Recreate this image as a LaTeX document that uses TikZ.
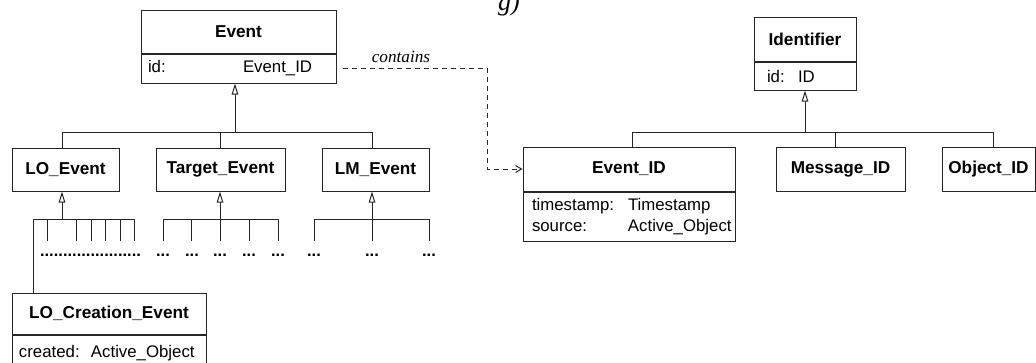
\documentclass[tikz,border=0pt]{standalone}
\usepackage{fontspec}
\setmainfont{Liberation Sans}
\newfontfamily\timesfont{Liberation Serif}
\usetikzlibrary{arrows.meta}
\tikzset{
  cls/.style={draw=black!85, line width=1pt, minimum height=44pt, inner sep=0pt,
    font=\fontsize{17.2}{20}\selectfont\bfseries},
  attr/.style={draw=black!85, line width=1pt, inner ysep=0pt, align=left,
    font=\fontsize{16.8}{21}\selectfont},
  ln/.style={line width=1pt, draw=black!85},
  gen/.style={ln, -{Triangle[open, length=11pt, width=6.5pt, fill=white]}},
  dep/.style={ln, dash pattern=on 5pt off 4pt, -{Straight Barb[length=6pt, width=7pt]}},
  dotrow/.style={font=\fontsize{16.5}{16}\selectfont\bfseries, inner sep=0pt, anchor=base},
  lbl/.style={font=\timesfont\itshape\fontsize{17.2}{20}\selectfont, inner sep=0pt, anchor=base},
}
\begin{document}
\begin{tikzpicture}[x=1pt,y=-1pt]
\useasboundingbox (0,0) rectangle (1036,362);
\clip (0,0) rectangle (1036,362);

% fragment of caption above (cut off at the top edge, as in the reference)
\node[lbl, font=\timesfont\itshape\fontsize{26}{28}\selectfont] (frag) at (509,10) {g)};

% ---- Event hierarchy ----
\node[cls, minimum width=195pt, minimum height=43pt] (event) at (238.5,31.5) {Event};
\node[attr, inner xsep=7pt, text width=181pt, minimum height=29pt, anchor=north] (eventattr) at (event.south)
  {\makebox[95pt][l]{id:}Event\_ID};

\node[cls, minimum width=107pt, minimum height=43pt] (loev) at (65.5,169.5) {LO\_Event};
\node[cls, minimum width=129pt, minimum height=43pt] (targetev) at (220.5,169.5) {Target\_Event};
\node[cls, minimum width=107pt, minimum height=43pt] (lmev) at (375.5,169.5) {LM\_Event};

\coordinate (eb) at (235,132);
\coordinate (b1) at (62,132);
\coordinate (b2) at (220,132);
\coordinate (b3) at (372,132);
\draw[ln] (b1) -- (b3);
\draw[gen] (eb) -- (eb |- eventattr.south);
\draw[ln] (b1) -- (b1 |- loev.north);
\draw[ln] (b2) -- (b2 |- targetev.north);
\draw[ln] (b3) -- (b3 |- lmev.north);

% LO_Event subclasses
\node[cls, minimum width=194pt, minimum height=41pt] (locr) at (109,313.5) {LO\_Creation\_Event};
\node[attr, inner xsep=7pt, text width=180pt, minimum height=36pt, anchor=north] (locrattr) at (locr.south)
  {\makebox[72pt][l]{created:}Active\_Object};

\coordinate (loL) at (33,219);
\coordinate (loA) at (62,219);
\coordinate (loR) at (134,219);
\draw[ln] (loL) -- (loR);
\draw[gen] (loA) -- (loA |- loev.south);
\draw[ln] (loL) -- (loL |- locr.north);
\foreach \x in {47,76,91,105,120,134} \draw[ln] (\x,219) -- (\x,241);
\node[dotrow] (lodots) at (90.5,256) {......................};

% Target_Event subclasses
\coordinate (tL) at (163,219);
\coordinate (tA) at (220,219);
\coordinate (tR) at (278,219);
\draw[ln] (tL) -- (tR);
\draw[gen] (tA) -- (tA |- targetev.south);
\foreach \x in {163,191,249,278} \draw[ln] (\x,219) -- (\x,241);
\draw[ln] (220,219) -- (220,241);

% LM_Event subclasses
\coordinate (mL) at (314,219);
\coordinate (mA) at (372,219);
\coordinate (mR) at (429,219);
\draw[ln] (mL) -- (mR);
\draw[gen] (mA) -- (mA |- lmev.south);
\foreach \x in {314,372,429} \draw[ln] (\x,219) -- (\x,241);

\foreach \x [count=\i] in {163,192,220,249,278,314,372,429}
  \node[dotrow] (dots\i) at (\x,256) {...};

% ---- Identifier hierarchy ----
\node[cls, minimum width=102pt, minimum height=44pt] (ident) at (805,39) {Identifier};
\node[attr, inner xsep=13pt, text width=76pt, minimum height=28pt, anchor=north] (identattr) at (ident.south)
  {\makebox[31pt][l]{id:}ID};

\node[cls, minimum width=212pt, minimum height=44pt] (eventid) at (629,169) {Event\_ID};
\node[attr, inner xsep=9pt, text width=194pt, minimum height=49pt, anchor=north] (eventidattr) at (eventid.south)
  {\makebox[96pt][l]{timestamp:}Timestamp\\\makebox[96pt][l]{source:}Active\_Object};
\node[cls, minimum width=129pt, minimum height=44pt] (msgid) at (840.5,169) {Message\_ID};
\node[cls, minimum width=93pt, minimum height=44pt] (objid) at (988.5,169) {Object\_ID};

\coordinate (iA) at (805,132);
\coordinate (iL) at (632,132);
\coordinate (iM) at (835,132);
\coordinate (iR) at (993,132);
\draw[ln] (iL) -- (iR);
\draw[gen] (iA) -- (iA |- identattr.south);
\draw[ln] (iL) -- (iL |- eventid.north);
\draw[ln] (iM) -- (iM |- msgid.north);
\draw[ln] (iR) -- (iR |- objid.north);

% ---- dependency ----
\coordinate (dc) at (487,120);
\draw[dep, shorten <=6pt] (eventattr.east) -| (dc) |- (eventid.west);
\node[lbl] (contains) at (401,62) {contains};
\end{tikzpicture}
\end{document}
